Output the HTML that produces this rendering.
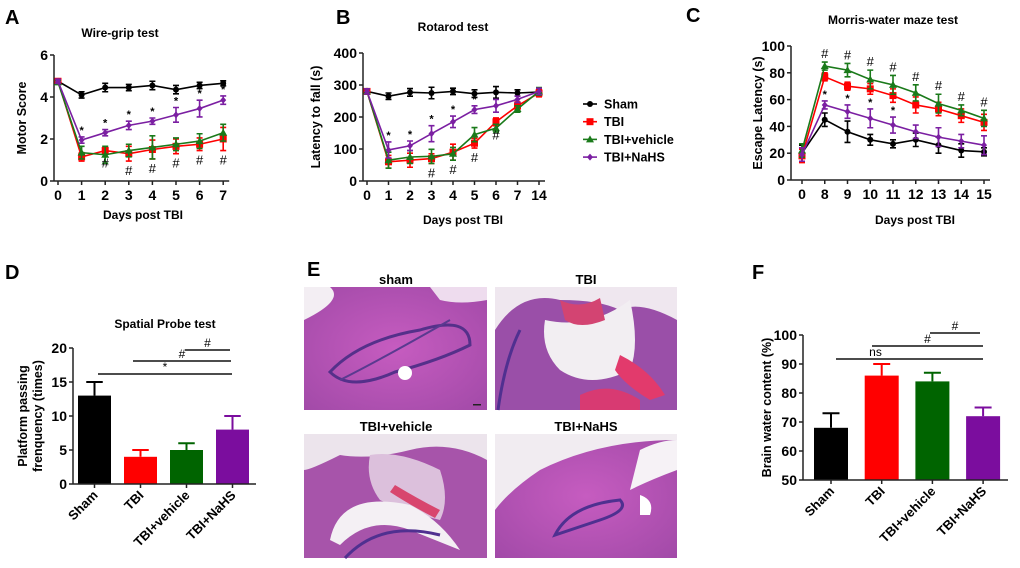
<!DOCTYPE html>
<html><head><meta charset="utf-8"><style>
body{margin:0;background:#fff;}
svg{display:block;font-family:"Liberation Sans",Arial,sans-serif;font-weight:bold;}
</style></head><body>
<svg id="fig" width="1020" height="568" viewBox="0 0 1020 568" xmlns="http://www.w3.org/2000/svg">
<defs>
<radialGradient id="tis" cx="50%" cy="50%" r="70%"><stop offset="0" stop-color="#c65cc0"/><stop offset="1" stop-color="#a24aa8"/></radialGradient>
</defs>
<g id="panelE">
<text x="307" y="276" font-size="20">E</text>
<text x="396" y="284" font-size="13" text-anchor="middle">sham</text>
<text x="586" y="284" font-size="13" text-anchor="middle">TBI</text>
<text x="396" y="431" font-size="13" text-anchor="middle">TBI+vehicle</text>
<text x="586" y="431" font-size="13" text-anchor="middle">TBI+NaHS</text>
<g>
<rect x="304" y="287" width="183" height="123" fill="url(#tis)"/>
<path d="M304 287 L330 287 Q345 300 304 320 Z" fill="#f3eef3"/>
<path d="M430 287 L487 287 L487 300 Q460 305 440 300 Z" fill="#eedcee"/>
<path d="M330 372 Q360 340 420 330 Q470 315 470 345 Q440 360 395 372 Q350 392 330 372 Z" fill="none" stroke="#55308a" stroke-width="3"/>
<path d="M340 380 Q380 360 450 320" fill="none" stroke="#5a3a90" stroke-width="2"/>
<circle cx="405" cy="373" r="7" fill="#fff"/>
<rect x="473" y="404" width="8" height="1.5" fill="#222"/>
</g>
<g>
<rect x="495" y="287" width="182" height="123" fill="#9a4fa8"/>
<path d="M495 287 L677 287 L677 320 Q640 300 620 310 Q600 300 560 300 Q520 290 495 330 Z" fill="#efe7ef"/>
<path d="M545 320 Q590 330 630 300 Q640 345 630 370 Q590 390 560 370 Q540 350 545 320 Z" fill="#f2eef2"/>
<path d="M560 300 Q580 310 600 298 L605 320 Q580 330 565 320 Z" fill="#d34472"/>
<path d="M620 355 Q650 370 665 395 L650 400 Q625 385 615 370 Z" fill="#e23a6c"/>
<path d="M580 395 Q610 380 640 400 L640 410 L580 410 Z" fill="#d83a72"/>
<path d="M498 410 Q505 360 520 330" fill="none" stroke="#503090" stroke-width="3"/>
</g>
<g>
<rect x="304" y="434" width="183" height="124" fill="#a754aa"/>
<path d="M304 434 L487 434 L487 460 Q450 440 410 450 Q370 460 340 455 Q310 470 304 470 Z" fill="#ece4ec"/>
<path d="M370 455 Q400 450 440 470 Q450 500 440 520 Q400 510 380 500 Q365 480 370 455 Z" fill="#dcc0dc"/>
<path d="M330 540 Q340 490 410 505 Q440 520 460 550 L410 530 Q370 515 340 545 Z" fill="#f4f0f4"/>
<path d="M395 485 Q420 500 440 510 L435 518 Q410 505 390 492 Z" fill="#d8466e"/>
<path d="M345 558 Q380 520 440 535" fill="none" stroke="#503090" stroke-width="3"/>
</g>
<g>
<rect x="495" y="434" width="182" height="124" fill="url(#tis)"/>
<path d="M495 434 L677 434 L677 440 Q600 440 540 470 Q510 490 495 510 Z" fill="#f1ecf1"/>
<path d="M640 450 Q660 440 677 440 L677 470 Q650 480 630 490 Z" fill="#f6f2f6"/>
<path d="M555 535 Q570 505 620 500 Q630 510 600 520 Q570 530 555 535 Z" fill="none" stroke="#4e3090" stroke-width="3"/>
<path d="M640 495 Q655 500 650 515 L640 515 Z" fill="#fff"/>
</g>
</g>
</svg>
<script>
// ---------- Panel A data ----------
const aLabels = ["0","1","2","3","4","5","6","7"];
const aSham = [4.75,4.1,4.45,4.45,4.55,4.35,4.55,4.65];
const aTBI = [4.75,1.15,1.45,1.3,1.5,1.65,1.75,2.0];
const aVeh = [4.7,1.35,1.25,1.45,1.6,1.75,1.9,2.3];
const aNaHS = [4.75,1.95,2.3,2.65,2.85,3.15,3.45,3.85];
const aShamErr = [0.1,0.15,0.2,0.15,0.2,0.2,0.15,0.12];
const aTBIErr = [0.1,0.2,0.15,0.35,0.45,0.35,0.3,0.55];
const aVehErr = [0.1,0.3,0.4,0.3,0.55,0.3,0.35,0.4];
const aNaHSErr = [0.1,0.15,0.15,0.2,0.15,0.35,0.4,0.2];
const aTicks = [0,2,4,6];
const aStar = ["","*","*","*","*","*","*","*"];
const aHash = ["","","#","#","#","#","#","#"];
// ---------- Panel B data ----------
const bLabels = ["0","1","2","3","4","5","6","7","14"];
const bSham = [280,265,277,275,280,273,277,275,278];
const bTBI = [280,60,65,70,90,118,185,235,275];
const bVeh = [280,65,75,77,85,145,165,225,280];
const bNaHS = [280,97,110,148,185,223,235,255,280];
const bShamErr = [8,10,12,18,10,12,18,10,10];
const bTBIErr = [8,20,22,15,25,15,12,12,12];
const bVehErr = [8,25,20,22,20,22,12,10,12];
const bNaHSErr = [8,25,15,25,18,12,20,10,10];
const bTicks = [0,100,200,300,400];
const bStar = ["","*","*","*","*","*","","",""];
const bHash = ["","","","#","#","#","#","",""];
// ---------- Panel C data ----------
const cLabels = ["0","8","9","10","11","12","13","14","15"];
const cSham = [20,45,36,30,27,30,26,22,21];
const cTBI = [18,77,70,68,63,56,53,48,43];
const cVeh = [22,85,82,75,71,65,57,52,46];
const cNaHS = [19,56,51,46,41,36,32,29,26];
const cShamErr = [6,5,8,4,3,5,6,5,3];
const cTBIErr = [5,3,3,4,5,6,5,5,6];
const cVehErr = [5,3,5,7,7,6,7,4,6];
const cNaHSErr = [5,3,5,7,6,5,7,5,7];
const cTicks = [0,20,40,60,80,100];
const cStar = ["","*","*","*","*","","","",""];
const cHash = ["","#","#","#","#","#","#","#","#"];
// ---------- Panel D data ----------
const dCats = ["Sham","TBI","TBI+vehicle","TBI+NaHS"];
const dVals = [13,4,5,8];
const dErr = [2,1,1,2];
const dTicks = [0,5,10,15,20];
// ---------- Panel F data ----------
const fCats = ["Sham","TBI","TBI+vehicle","TBI+NaHS"];
const fVals = [68,86,84,72];
const fErr = [5,4,3,3];
const fTicks = [50,60,70,80,90,100];

const barColors = ["#000000","#ff0000","#006400","#7b0d9e"];
const seriesColors = ["#000000","#ff0000","#1a7a1a","#7b1fa2"];
const seriesNames = ["Sham","TBI","TBI+vehicle","TBI+NaHS"];
const NS = "http://www.w3.org/2000/svg";
const svg = document.getElementById('fig');

function mk(tag, attrs, parent, txt){
  const e = document.createElementNS(NS, tag);
  for (const k in attrs) e.setAttribute(k, attrs[k]);
  if (txt !== undefined) e.textContent = txt;
  (parent || svg).appendChild(e);
  return e;
}
function marker(g, shape, x, y, c){
  let m;
  if (shape === 0) m = mk('circle', {cx:x, cy:y, r:3, fill:c}, g);
  else if (shape === 1) m = mk('rect', {x:x-3.5, y:y-3.5, width:7, height:7, fill:c}, g);
  else if (shape === 2) m = mk('path', {d:`M${x} ${y-4}L${x+4} ${y+3}L${x-4} ${y+3}Z`, fill:c}, g);
  else m = mk('path', {d:`M${x} ${y-3.5}L${x+3} ${y}L${x} ${y+3.5}L${x-3} ${y}Z`, fill:c}, g);
  
  
}

function lineChart(o){
  const g = mk('g', {});
  
  
  const ymax = o.ticks[o.ticks.length-1], ymin = o.ticks[0];
  const Y = v => o.yBot - (v - ymin) / (ymax - ymin) * (o.yBot - o.yTop);
  const X = i => o.xFirst + i * o.xStep;
  const n = o.labels.length;
  const xEnd = X(n-1) + 6;
  const ya = mk('line', {x1:o.axisX, y1:o.yTop, x2:o.axisX, y2:o.yBot, stroke:'#222', 'stroke-width':1.5}, g);
   
  const xa = mk('line', {x1:o.axisX, y1:o.yBot, x2:xEnd, y2:o.yBot, stroke:'#222', 'stroke-width':1.5}, g);
   
  o.ticks.forEach(t => {
    mk('line', {x1:o.axisX-4, y1:Y(t), x2:o.axisX, y2:Y(t), stroke:'#222', 'stroke-width':1.5}, g);
    const tl = mk('text', {x:o.axisX-6, y:Y(t)+5, 'font-size':14, 'text-anchor':'end'}, g, String(t));
     
  });
  o.labels.forEach((l,i) => {
    mk('line', {x1:X(i), y1:o.yBot, x2:X(i), y2:o.yBot+4, stroke:'#222', 'stroke-width':1.5}, g);
    const tl = mk('text', {x:X(i), y:o.yBot+19, 'font-size':14, 'text-anchor':'middle'}, g, l);
     
  });
  const tt = mk('text', {x:o.titleX, y:o.titleY, 'font-size':12, 'text-anchor':'middle'}, g, o.title);
   
  const xt = mk('text', {x:o.xTitleX, y:o.xTitleY, 'font-size':12, 'text-anchor':'middle'}, g, 'Days post TBI');
   
  const yc = (o.yTop + o.yBot)/2;
  const yt = mk('text', {x:o.yTitleX, y:yc, 'font-size':12.5, 'text-anchor':'middle', transform:`rotate(-90 ${o.yTitleX} ${yc})`}, g, o.yTitle);
   
  o.series.forEach((s, si) => {
    const c = seriesColors[si];
    const sg = mk('g', {}, g);
    
    
    const pts = s.v.map((v,i) => `${X(i)},${Y(v)}`).join(' ');
    const pl = mk('polyline', {points:pts, fill:'none', stroke:c, 'stroke-width':1.6}, sg);
     
    s.v.forEach((v,i) => {
      const e = s.e[i];
      const eb = mk('path', {d:`M${X(i)} ${Y(v-e)}V${Y(v+e)}M${X(i)-3} ${Y(v-e)}h6M${X(i)-3} ${Y(v+e)}h6`, stroke:c, 'stroke-width':1.6, fill:'none'}, sg);
       
      marker(sg, si, X(i), Y(v), c);
    });
  });
  o.star.forEach((s,i) => {
    if (!s) return;
    const v = o.starSeries.v[i] + o.starSeries.e[i];
    const t = mk('text', {x:X(i), y:Y(v)-3, 'font-size':11, 'text-anchor':'middle'}, g, s);
     
  });
  o.hash.forEach((s,i) => {
    if (!s) return;
    const hv = o.hashAbove ? o.hashSeries.v[i] + o.hashSeries.e[i] : o.hashSeries.v[i] - o.hashSeries.e[i];
    const y = o.hashAbove ? Y(hv) - 4 : Y(hv) + 14;
    const t = mk('text', {x:X(i), y:y, 'font-size':13, 'text-anchor':'middle', 'font-weight':'normal'}, g, s);
     
  });
  return g;
}

function barChart(o){
  const g = mk('g', {});
  
  
  const ymax = o.ticks[o.ticks.length-1], ymin = o.ticks[0];
  const Y = v => o.yBot - (v - ymin) / (ymax - ymin) * (o.yBot - o.yTop);
  const X = i => o.cFirst + i * o.cStep;
  o.vals.forEach((v,i) => {
    const b = mk('rect', {x:X(i)-o.bw/2, y:Y(v), width:o.bw, height:o.yBot-Y(v), fill:barColors[i]}, g);
    
    
    const e = mk('path', {d:`M${X(i)} ${Y(v)}V${Y(v+o.err[i])}M${X(i)-o.bw/4} ${Y(v+o.err[i])}h${o.bw/2}`, stroke:barColors[i], 'stroke-width':2, fill:'none'}, g);
     
  });
  const ya = mk('line', {x1:o.axisX, y1:o.yTop, x2:o.axisX, y2:o.yBot, stroke:'#222', 'stroke-width':1.5}, g);
   
  const xa = mk('line', {x1:o.axisX, y1:o.yBot, x2:o.axisEnd, y2:o.yBot, stroke:'#222', 'stroke-width':1.5}, g);
   
  o.ticks.forEach(t => {
    mk('line', {x1:o.axisX-4, y1:Y(t), x2:o.axisX, y2:Y(t), stroke:'#222', 'stroke-width':1.5}, g);
    const tl = mk('text', {x:o.axisX-6, y:Y(t)+5, 'font-size':14, 'text-anchor':'end'}, g, String(t));
     
  });
  o.cats.forEach((c,i) => {
    mk('line', {x1:X(i), y1:o.yBot, x2:X(i), y2:o.yBot+4, stroke:'#222', 'stroke-width':1.5}, g);
    const tx = X(i)+4, ty = o.yBot+12;
    const tl = mk('text', {x:tx, y:ty, 'font-size':13, 'text-anchor':'end', transform:`rotate(-45 ${tx} ${ty})`}, g, c);
     
  });
  if (o.title) {
    const tt = mk('text', {x:o.titleX, y:o.titleY, 'font-size':12, 'text-anchor':'middle'}, g, o.title);
     
  }
  const yc = (o.yTop + o.yBot)/2;
  o.yTitle.forEach((line, k) => {
    const x = o.yTitleX + k*15;
    const yt = mk('text', {x:x, y:yc, 'font-size':12.5, 'text-anchor':'middle', transform:`rotate(-90 ${x} ${yc})`}, g, line);
     
  });
  o.brackets.forEach(b => {
    const l = mk('line', {x1:b[0], y1:b[2], x2:b[1], y2:b[2], stroke:'#111', 'stroke-width':1.6}, g);
     
    const t = mk('text', {x:(b[0]+b[1])/2 + (b[4]||0), y:b[2]-3, 'font-size':12, 'text-anchor':'middle', 'font-weight':'normal'}, g, b[3]);
     
  });
}

[["A",5,24],["B",336,24],["C",686,22],["D",5,279],["F",752,279]].forEach(p => {
  const t = mk('text', {x:p[1], y:p[2], 'font-size':20}, svg, p[0]);
  
  
});

lineChart({name:'wire-grip-chart', labels:aLabels, ticks:aTicks, axisX:54, xFirst:58, xStep:23.6, yTop:55, yBot:181,
  title:'Wire-grip test', titleX:120, titleY:37, xTitleX:143, xTitleY:219, yTitle:'Motor Score', yTitleX:26,
  series:[{v:aSham,e:aShamErr},{v:aTBI,e:aTBIErr},{v:aVeh,e:aVehErr},{v:aNaHS,e:aNaHSErr}],
  star:aStar, starSeries:{v:aNaHS,e:aNaHSErr}, hash:aHash, hashSeries:{v:aTBI,e:aTBIErr}});

lineChart({name:'rotarod-chart', labels:bLabels, ticks:bTicks, axisX:363, xFirst:367, xStep:21.5, yTop:53, yBot:181,
  title:'Rotarod test', titleX:453, titleY:31, xTitleX:463, xTitleY:224, yTitle:'Latency to fall (s)', yTitleX:320,
  series:[{v:bSham,e:bShamErr},{v:bTBI,e:bTBIErr},{v:bVeh,e:bVehErr},{v:bNaHS,e:bNaHSErr}],
  star:bStar, starSeries:{v:bNaHS,e:bNaHSErr}, hash:bHash, hashSeries:{v:bTBI,e:bTBIErr}});

lineChart({name:'water-maze-chart', labels:cLabels, ticks:cTicks, axisX:791, xFirst:802, xStep:22.75, yTop:46, yBot:180,
  title:'Morris-water maze test', titleX:893, titleY:24, xTitleX:915, xTitleY:224, yTitle:'Escape Latency (s)', yTitleX:762,
  series:[{v:cSham,e:cShamErr},{v:cTBI,e:cTBIErr},{v:cVeh,e:cVehErr},{v:cNaHS,e:cNaHSErr}],
  star:cStar, starSeries:{v:cNaHS,e:cNaHSErr}, hash:cHash, hashSeries:{v:cVeh,e:cVehErr}, hashAbove:true});

const lg = mk('g', {});


seriesNames.forEach((nm,i) => {
  const y = 104 + i*17.7;
  const eg = mk('g', {}, lg);
  
  
  mk('line', {x1:583, y1:y, x2:597, y2:y, stroke:seriesColors[i], 'stroke-width':1.6}, eg);
  marker(eg, i, 590, y, seriesColors[i]);
  mk('text', {x:604, y:y+4.5, 'font-size':12.5}, eg, nm);
});

barChart({name:'spatial-probe-chart', cats:dCats, vals:dVals, err:dErr, ticks:dTicks, axisX:73, axisEnd:256,
  cFirst:94.5, cStep:46, bw:33, yTop:348, yBot:484, title:'Spatial Probe test', titleX:165, titleY:328,
  yTitle:['Platform passing','frenquency (times)'], yTitleX:27,
  brackets:[[98,232,374,'*'],[133,231,361,'#'],[185,230,350,'#']]});

barChart({name:'brain-water-chart', cats:fCats, vals:fVals, err:fErr, ticks:fTicks, axisX:803, axisEnd:1008,
  cFirst:831, cStep:50.7, bw:34, yTop:335, yBot:480, title:'', yTitle:['Brain water content (%)'], yTitleX:771,
  brackets:[[836,983,359,'ns',-34],[872,983,346,'#'],[930,980,333,'#']]});
</script>
</body></html>
